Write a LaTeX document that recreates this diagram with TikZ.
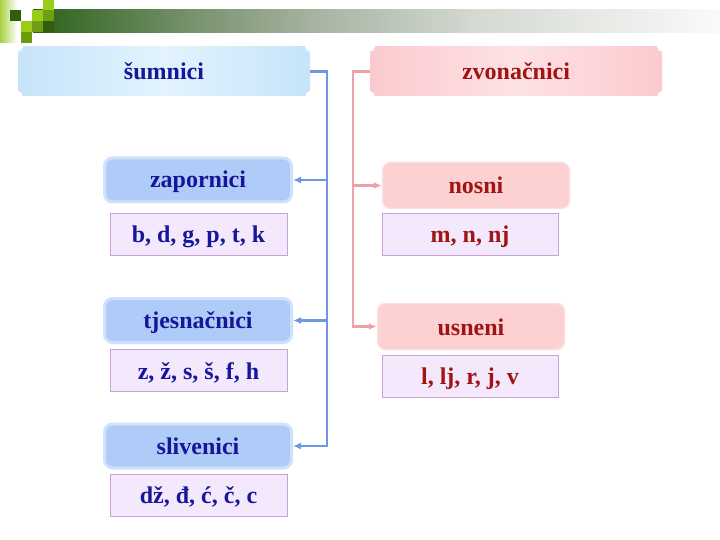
\documentclass[tikz,border=0pt]{standalone}
\usepackage{fontspec}
\setmainfont{Liberation Serif}
\usetikzlibrary{arrows.meta}
\definecolor{lg}{HTML}{9ACD1A}
\definecolor{mg}{HTML}{6E9E14}
\definecolor{dg}{HTML}{2F5E0E}
\definecolor{og}{HTML}{6B9A0A}
\definecolor{stripg}{HTML}{A8D040}
\definecolor{bltext}{HTML}{16169A}
\definecolor{rdtext}{HTML}{A01414}
\definecolor{hbl1}{HTML}{C6E4FA}
\definecolor{hbl2}{HTML}{E2F3FE}
\definecolor{hrd1}{HTML}{FCCACE}
\definecolor{hrd2}{HTML}{FDE2E4}
\definecolor{blfill}{HTML}{AFCBF8}
\definecolor{blborder}{HTML}{CEE2FC}
\definecolor{rdfill}{HTML}{FDD0D2}
\definecolor{rdborder}{HTML}{FDE0E2}
\definecolor{lavfill}{HTML}{F3E8FC}
\definecolor{lavborder}{HTML}{C8A2D8}
\definecolor{blline}{HTML}{6F98E4}
\definecolor{rdline}{HTML}{F0A0A8}
\pgfdeclarehorizontalshading{hdrbar}{100bp}{rgb(0bp)=(0.17,0.38,0.10); rgb(25bp)=(0.17,0.38,0.10); rgb(37bp)=(0.48,0.58,0.44); rgb(46bp)=(0.66,0.71,0.64); rgb(57bp)=(0.83,0.85,0.82); rgb(75bp)=(0.98,0.98,0.98); rgb(100bp)=(0.98,0.98,0.98)}
\begin{document}
\begin{tikzpicture}[x=1pt,y=-1pt,
  txt/.style={font=\fontsize{24}{28}\bfseries\selectfont, text depth=4pt},
  hdrbl/.style={txt, text height=20pt, minimum width=292pt, minimum height=49pt, inner sep=0pt,
     left color=hbl1, right color=hbl1, middle color=hbl2, text=bltext},
  hdrrd/.style={hdrbl, left color=hrd1, right color=hrd1, middle color=hrd2, text=rdtext},
  catbl/.style={txt, text height=20pt, rounded corners=8pt, draw=blborder, line width=3pt, fill=blfill,
     minimum width=187pt, minimum height=44pt, inner sep=0pt, text=bltext},
  catrd/.style={txt, text height=21pt, rounded corners=8pt, draw=rdborder, line width=1.5pt, fill=rdfill,
     minimum width=187pt, minimum height=46pt, inner sep=0pt, text=rdtext},
  listbl/.style={txt, text height=21pt, draw=lavborder, line width=0.8pt, fill=lavfill,
     minimum width=177pt, minimum height=42pt, inner sep=0pt, text=bltext},
  listrd/.style={listbl, text=rdtext, minimum width=176pt},
  bline/.style={draw=blline, line width=2.4pt, -{Latex[length=8pt,width=7pt]}},
  rline/.style={draw=rdline, line width=2.4pt, -{Latex[length=8pt,width=7pt]}},
  notch/.style={fill=white}
]
\useasboundingbox (0,0) rectangle (720,540);
\fill[white] (0,0) rectangle (720,540);
% header decoration
\shade[left color=stripg, right color=white] (0,0) rectangle (17,43);
\fill[shading=hdrbar] (33,10) rectangle (720,33);
\fill[lg] (43,0) rectangle (54,10);
\fill[dg] (10,10) rectangle (21,21);
\fill[lg] (32,10) rectangle (43,21);
\fill[mg] (43,10) rectangle (54,21);
\fill[lg] (21,21) rectangle (32,32);
\fill[mg] (32,21) rectangle (43,32);
\fill[dg] (43,21) rectangle (54,32);
\fill[og] (21,32) rectangle (32,43);

% header boxes
\node[hdrbl] (sum) at (164,71.5) {šumnici};
\node[hdrrd] (zvo) at (516,71.5) {zvonačnici};
\foreach \n in {sum,zvo}{
  \fill[notch] (\n.north west) circle[radius=5pt];
  \fill[notch] (\n.north east) circle[radius=5pt];
  \fill[notch] (\n.south west) circle[radius=5pt];
  \fill[notch] (\n.south east) circle[radius=5pt];
}

% left column
\node[catbl] (zap) at (198,180) {zapornici};
\node[listbl] (bdg) at (198.5,234) {b, d, g, p, t, k};
\node[catbl] (tje) at (198,320.5) {tjesnačnici};
\node[listbl] (zzs) at (198.5,370.5) {z, ž, s, š, f, h};
\node[catbl] (sli) at (198,446) {slivenici};
\node[listbl] (dzh) at (198.5,495) {dž, đ, ć, č, c};

% right column
\node[catrd] (nos) at (476,185.5) {nosni};
\node[listrd] (mnj) at (470,234) {m, n, nj};
\node[catrd] (usn) at (471,326.5) {usneni};
\node[listrd] (llj) at (470,376) {l, lj, r, j, v};

% connectors
\coordinate (bb) at (327,446);
\draw[bline] (sum.east) -| (bb) -- (sli.east);
\draw[bline] (bb |- zap.east) -- (zap.east);
\draw[bline] (bb |- tje.east) -- (tje.east);
\coordinate (rb) at (353,326.5);
\draw[rline] (zvo.west) -| (rb) -- (usn.west);
\draw[rline] (rb |- nos.west) -- (nos.west);
\end{tikzpicture}
\end{document}
